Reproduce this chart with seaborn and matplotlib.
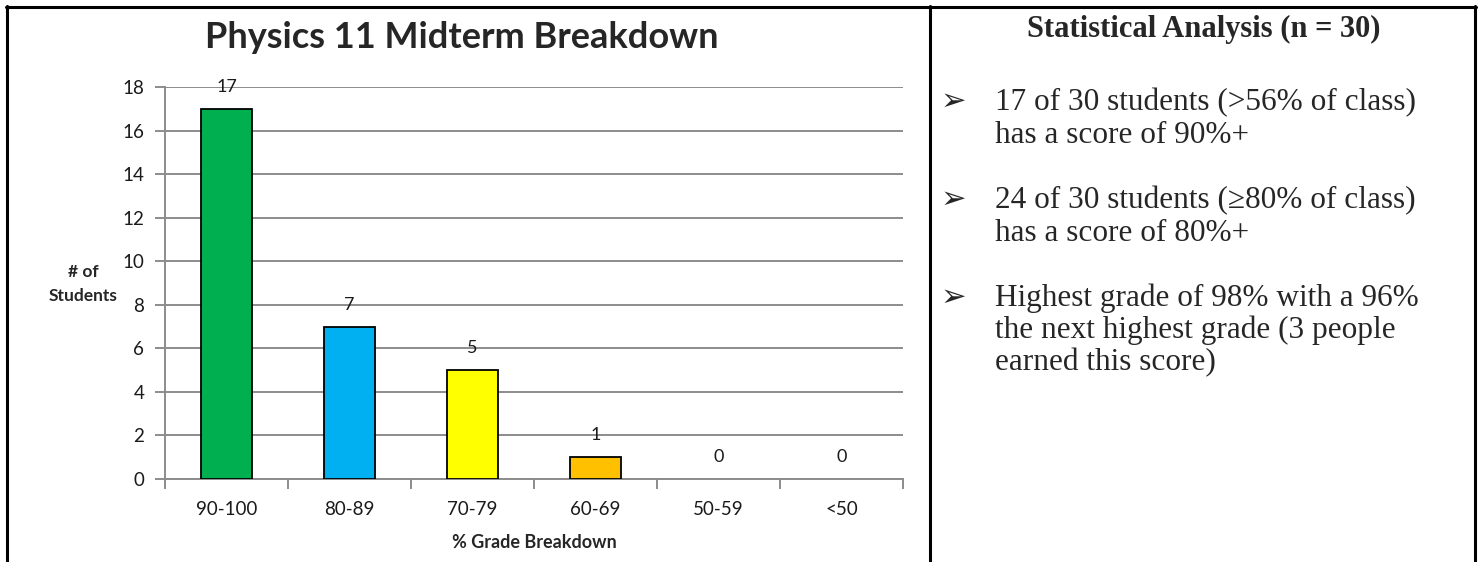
import matplotlib
matplotlib.use("Agg")
import matplotlib.pyplot as plt
from matplotlib.lines import Line2D
from matplotlib.ticker import FixedLocator
import seaborn as sns
import pandas as pd
import numpy as np

# data
grades = ["90-100", "80-89", "70-79", "60-69", "50-59", "<50"]
students = [17, 7, 5, 1, 0, 0]
bar_colours = ["#00B050", "#00B0F0", "#FFFF00", "#FFC000", "#A0A0A0", "#A0A0A0"]

title = "Physics 11 Midterm Breakdown"
stats_title = "Statistical Analysis (n = 30)"
bullets = [
    ["17 of 30 students (>56% of class)", "has a score of 90%+"],
    ["24 of 30 students (\u226580% of class)", "has a score of 80%+"],
    ["Highest grade of 98% with a 96%", "the next highest grade (3 people", "earned this score)"],
]

W, H = 1482, 562

def fx(x):
    return x / W

def fy(y):
    return 1 - y / H

sns.set_theme(style="white")
plt.rcParams["font.family"] = ["Lato", "DejaVu Sans"]

fig = plt.figure(figsize=(W / 100, H / 100), dpi=100)
ax = fig.add_axes([fx(165), fy(479), (903 - 165) / W, (479 - 87) / H])

df = pd.DataFrame({"grade": grades, "n": students})
sns.barplot(data=df, x="grade", y="n", hue="grade", palette=bar_colours,
            legend=False, width=0.41, edgecolor="black", linewidth=1.3,
            saturation=1, ax=ax, zorder=3)

# empty bins: no outline drawn, just the label
for p in ax.patches:
    if p.get_height() == 0:
        p.set_linewidth(0)

for c in ax.containers:
    ax.bar_label(c, padding=10, fontsize=13, color="#1a1a1a")

ax.set_ylim(0, 18)
ax.set_xlim(-0.5, len(grades) - 0.5)
ax.set_yticks(np.arange(0, 19, 2))
ax.yaxis.grid(True, color="#8c8c8c", linewidth=1.4, zorder=0)
ax.xaxis.grid(False)
ax.set_axisbelow(True)

for side in ["top", "right"]:
    ax.spines[side].set_visible(False)
for side in ["left", "bottom"]:
    ax.spines[side].set_color("#8c8c8c")
    ax.spines[side].set_linewidth(1.4)

ax.tick_params(axis="y", which="major", length=7, width=1.4, color="#8c8c8c",
               labelsize=13.5, labelcolor="#1a1a1a", pad=8, left=True)
ax.tick_params(axis="x", which="major", length=0, labelsize=13.5,
               labelcolor="#1a1a1a", pad=16)
ax.xaxis.set_minor_locator(FixedLocator(np.arange(-0.5, len(grades), 1)))
ax.tick_params(axis="x", which="minor", length=7, width=1.4, color="#8c8c8c",
               bottom=True)

ax.set_xlabel("% Grade Breakdown", fontsize=13, fontweight="bold", labelpad=11)
ax.set_ylabel("")
fig.text(fx(83), fy(284), "# of\nStudents", fontsize=12.5, fontweight="bold",
         ha="center", va="center", linespacing=1.55)

fig.text(fx(462), fy(38), title, fontsize=26, fontweight="bold",
         ha="center", va="center")

# right hand side text cell
serif = ["Liberation Serif", "DejaVu Serif"]
fig.text(fx(1204), fy(37), stats_title, fontsize=22, fontweight="bold",
         family=serif, ha="center", va="baseline")

baselines = [[110, 143], [208, 241], [306, 338, 370]]
for lines, ys in zip(bullets, baselines):
    fig.text(fx(953), fy(ys[0] - 9), "\u27a2", fontsize=22, family=["DejaVu Sans"],
             ha="center", va="center")
    for line, y in zip(lines, ys):
        fig.text(fx(995), fy(y), line, fontsize=22.5, family=serif,
                 ha="left", va="baseline")

# table borders
lw = 2.2
for (x0, y0, x1, y1) in [(6, 7, 1476, 7), (7, 6, 7, 562), (1475, 6, 1475, 562),
                         (930, 6, 930, 562)]:
    fig.add_artist(Line2D([fx(x0), fx(x1)], [fy(y0), fy(y1)], color="black",
                          linewidth=lw, transform=fig.transFigure))

fig.savefig("out.png", dpi=100, facecolor="white")
